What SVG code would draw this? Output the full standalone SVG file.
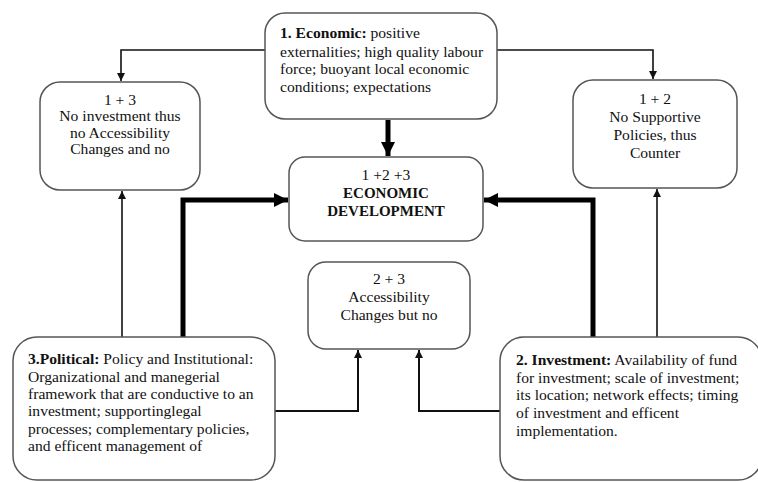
<svg xmlns="http://www.w3.org/2000/svg" width="758" height="482" viewBox="0 0 758 482">
<style>
.box{fill:#fff;stroke:#555;stroke-width:1.5}
text{font-family:"Liberation Serif","Times New Roman",serif;font-size:15.6px;fill:#111}
.c{text-anchor:middle}
.b{font-weight:bold}
.bc{font-size:15px}
.thin{fill:none;stroke:#111;stroke-width:1.6}
.mid{fill:none;stroke:#111;stroke-width:2}
.thick{fill:none;stroke:#000;stroke-width:5}
</style>
<defs>
<marker id="ah" markerUnits="userSpaceOnUse" markerWidth="10" markerHeight="10" refX="8" refY="4" orient="auto">
<path d="M0,0 L8,4 L0,8 Z" fill="#111"/>
</marker>
<marker id="ahT" markerUnits="userSpaceOnUse" markerWidth="16" markerHeight="16" refX="14" refY="7" orient="auto">
<path d="M0,0 L14,7 L0,14 Z" fill="#000"/>
</marker>
</defs>
<rect width="758" height="482" fill="#fff"/>
<g id="connectors">
<path class="thin" d="M265,50 H121 V81" marker-end="url(#ah)"/>
<path class="thin" d="M497,50 H653 V79" marker-end="url(#ah)"/>
<path class="thick" d="M388,120 V156" marker-end="url(#ahT)"/>
<path class="thin" d="M122,337 V191" marker-end="url(#ah)"/>
<path class="thin" d="M657,337 V189" marker-end="url(#ah)"/>
<path class="thick" d="M183,337 V200 H288" marker-end="url(#ahT)"/>
<path class="thick" d="M593,337 V200 H484" marker-end="url(#ahT)"/>
<path class="mid" d="M275,411 H358 V350" marker-end="url(#ah)"/>
<path class="mid" d="M500,411 H419 V350" marker-end="url(#ah)"/>
</g>
<g id="economic">
<rect class="box" x="265" y="13" width="232" height="106" rx="20"/>
<text x="280" y="38"><tspan class="b">1. Economic:</tspan> positive</text>
<text x="280" y="57">externalities; high quality labour</text>
<text x="280" y="74">force; buoyant local economic</text>
<text x="280" y="92">conditions; expectations</text>
</g>
<g id="no-investment">
<rect class="box" x="40" y="82" width="160" height="108" rx="20"/>
<text class="c" x="120" y="105">1 + 3</text>
<text class="c" x="120" y="121">No investment thus</text>
<text class="c" x="120" y="138">no Accessibility</text>
<text class="c" x="120" y="154">Changes and no</text>
</g>
<g id="no-supportive">
<rect class="box" x="573" y="80" width="164" height="108" rx="20"/>
<text class="c" x="655" y="104">1 + 2</text>
<text class="c" x="655" y="122">No Supportive</text>
<text class="c" x="655" y="140">Policies, thus</text>
<text class="c" x="655" y="158">Counter</text>
</g>
<g id="development">
<rect class="box" x="289" y="157" width="194" height="84" rx="16"/>
<text class="c" x="386" y="180">1 +2 +3</text>
<text class="c b bc" x="386" y="198">ECONOMIC</text>
<text class="c b bc" x="386" y="216">DEVELOPMENT</text>
</g>
<g id="accessibility">
<rect class="box" x="308" y="262" width="162" height="87" rx="18"/>
<text class="c" x="389" y="284">2 + 3</text>
<text class="c" x="389" y="302">Accessibility</text>
<text class="c" x="389" y="320">Changes but no</text>
</g>
<g id="political">
<rect class="box" x="13" y="337" width="262" height="143" rx="24"/>
<text x="28" y="364"><tspan class="b">3.Political:</tspan> Policy and Institutional:</text>
<text x="28" y="382">Organizational and manegerial</text>
<text x="28" y="399">framework that are conductive to an</text>
<text x="28" y="416">investment; supportinglegal</text>
<text x="28" y="434">processes; complementary policies,</text>
<text x="28" y="451">and efficent management of</text>
</g>
<g id="investment">
<rect class="box" x="500" y="337" width="262" height="143" rx="24"/>
<text x="516" y="365"><tspan class="b">2. Investment:</tspan>  Availability of fund</text>
<text x="516" y="383">for investment; scale of investment;</text>
<text x="516" y="400">its location; network effects; timing</text>
<text x="516" y="418">of investment and efficent</text>
<text x="516" y="436">implementation.</text>
</g>
</svg>
